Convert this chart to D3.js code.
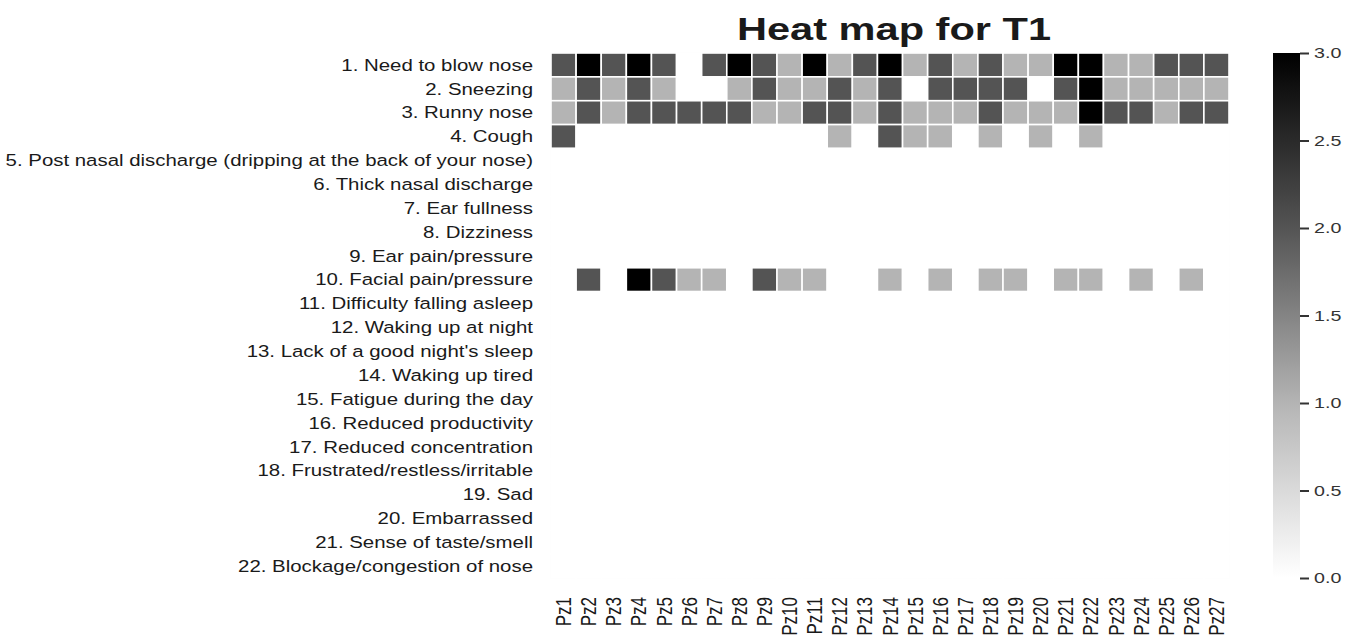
<!DOCTYPE html>
<html>
<head>
<meta charset="utf-8">
<script src="https://cdn.jsdelivr.net/npm/d3@7"></script>
<style>
  html, body { margin: 0; padding: 0; background: #ffffff; }
  svg { display: block; }
  text { font-family: "Liberation Sans", Arial, Helvetica, sans-serif; }
</style>
</head>
<body>
<svg id="chart" width="1346" height="636"></svg>
<script>
// Symptom items (rows)
const symptoms = [
  "1. Need to blow nose",
  "2. Sneezing",
  "3. Runny nose",
  "4. Cough",
  "5. Post nasal discharge (dripping at the back of your nose)",
  "6. Thick nasal discharge",
  "7. Ear fullness",
  "8. Dizziness",
  "9. Ear pain/pressure",
  "10. Facial pain/pressure",
  "11. Difficulty falling asleep",
  "12. Waking up at night",
  "13. Lack of a good night's sleep",
  "14. Waking up tired",
  "15. Fatigue during the day",
  "16. Reduced productivity",
  "17. Reduced concentration",
  "18. Frustrated/restless/irritable",
  "19. Sad",
  "20. Embarrassed",
  "21. Sense of taste/smell",
  "22. Blockage/congestion of nose"
];

// Patients (columns)
const patients = ["Pz1","Pz2","Pz3","Pz4","Pz5","Pz6","Pz7","Pz8","Pz9","Pz10",
  "Pz11","Pz12","Pz13","Pz14","Pz15","Pz16","Pz17","Pz18","Pz19","Pz20",
  "Pz21","Pz22","Pz23","Pz24","Pz25","Pz26","Pz27"];

// Scores per symptom row (one value per patient)
const needToBlowNose   = [2,3,2,3,2,0,2,3,2,1,3,1,2,3,1,2,1,2,1,1,3,3,1,1,2,2,2];
const sneezing         = [1,2,1,2,1,0,0,1,2,1,1,2,1,2,0,2,2,2,2,0,2,3,1,1,1,1,1];
const runnyNose        = [1,2,1,2,2,2,2,2,1,1,2,2,1,2,1,1,1,2,1,1,1,3,2,2,1,2,2];
const cough            = [2,0,0,0,0,0,0,0,0,0,0,1,0,2,1,1,0,1,0,1,0,1,0,0,0,0,0];
const zeroRow          = [0,0,0,0,0,0,0,0,0,0,0,0,0,0,0,0,0,0,0,0,0,0,0,0,0,0,0];
const facialPain       = [0,2,0,3,2,1,1,0,2,1,1,0,0,1,0,1,0,1,1,0,1,1,0,1,0,1,0];

const scores = [
  needToBlowNose, sneezing, runnyNose, cough,
  zeroRow, zeroRow, zeroRow, zeroRow, zeroRow,
  facialPain,
  zeroRow, zeroRow, zeroRow, zeroRow, zeroRow, zeroRow,
  zeroRow, zeroRow, zeroRow, zeroRow, zeroRow, zeroRow
];

const colorbarTicks = [0, 0.5, 1, 1.5, 2, 2.5, 3];
const chartTitle = "Heat map for T1";

// ---- layout ----
const svg = d3.select("#chart");
const plot = { left: 551, right: 1229, top: 53, bottom: 578 };
const bar = { left: 1273, width: 27 };
const stretch = 1.27;        // horizontal widening of tick text
const labelRight = 533;      // right edge of row labels
const labelLeft = 5;         // left edge of the longest row label

const x = d3.scaleBand().domain(patients).range([plot.left, plot.right]);
const y = d3.scaleBand().domain(symptoms).range([plot.top, plot.bottom]);
const color = d3.scaleLinear()
  .domain([0, 1, 2, 3])
  .range(["#ffffff", "#b4b4b4", "#545454", "#000000"]);

const cells = [];
symptoms.forEach((s, i) => {
  patients.forEach((p, j) => cells.push({ s, p, v: scores[i][j] }));
});

// faint frame around the grid
svg.append("rect")
  .attr("x", plot.left).attr("y", plot.top)
  .attr("width", plot.right - plot.left).attr("height", plot.bottom - plot.top)
  .attr("fill", "none").attr("stroke", "#f2f2f2").attr("stroke-width", 1);

svg.append("g").selectAll("rect")
  .data(cells)
  .join("rect")
  .attr("x", d => x(d.p))
  .attr("y", d => y(d.s))
  .attr("width", x.bandwidth())
  .attr("height", y.bandwidth())
  .attr("fill", d => color(d.v))
  .attr("stroke", "#ffffff")
  .attr("stroke-width", 1.6);

// row labels: widened so the longest label spans the left margin
const rowLabels = svg.append("g").selectAll("text")
  .data(symptoms)
  .join("text")
  .attr("text-anchor", "end")
  .attr("dy", "0.35em")
  .attr("font-size", 16.5)
  .attr("fill", "#1a1a1a")
  .text(d => d);
const widest = d3.max(rowLabels.nodes(), n => n.getComputedTextLength());
const rowStretch = (labelRight - labelLeft) / widest;
rowLabels.attr("transform", d => `translate(${labelRight},${y(d) + y.bandwidth() / 2}) scale(${rowStretch},1)`);

// column labels (rotated)
svg.append("g").selectAll("text")
  .data(patients)
  .join("text")
  .attr("transform", d => `translate(${x(d) + x.bandwidth() / 2},597) rotate(-90) scale(1,${stretch})`)
  .attr("text-anchor", "end")
  .attr("dy", "0.35em")
  .attr("font-size", 17)
  .attr("fill", "#1a1a1a")
  .text(d => d);

// title
svg.append("text")
  .attr("transform", `translate(${(plot.left + plot.right) / 2 + 4},40) scale(1.32,1)`)
  .attr("text-anchor", "middle")
  .attr("font-size", 31.5)
  .attr("font-weight", "bold")
  .attr("fill", "#1a1a1a")
  .text(chartTitle);

// colorbar
const cb = d3.scaleLinear().domain([0, 3]).range([plot.bottom, plot.top]);
const defs = svg.append("defs");
const grad = defs.append("linearGradient")
  .attr("id", "cbgrad")
  .attr("x1", 0).attr("y1", 1).attr("x2", 0).attr("y2", 0);
d3.range(0, 3.0001, 0.1).forEach(v => {
  grad.append("stop").attr("offset", v / 3).attr("stop-color", color(v));
});
svg.append("rect")
  .attr("x", bar.left).attr("y", plot.top)
  .attr("width", bar.width).attr("height", plot.bottom - plot.top)
  .attr("fill", "url(#cbgrad)");

const cbAxis = svg.append("g")
  .attr("transform", `translate(${bar.left + bar.width},0)`)
  .call(d3.axisRight(cb).tickValues(colorbarTicks).tickFormat(d3.format(".1f")).tickSize(9).tickPadding(5));
cbAxis.select(".domain").remove();
cbAxis.selectAll(".tick line").attr("stroke", "#333").attr("stroke-width", 2);
cbAxis.selectAll(".tick text")
  .attr("font-size", 15.5)
  .attr("fill", "#333")
  .attr("font-family", "'Liberation Sans', Arial, sans-serif")
  .attr("transform", function () {
    const tx = +d3.select(this).attr("x");
    return `translate(${tx},0) scale(${stretch},1) translate(${-tx},0)`;
  });
</script>
</body>
</html>
